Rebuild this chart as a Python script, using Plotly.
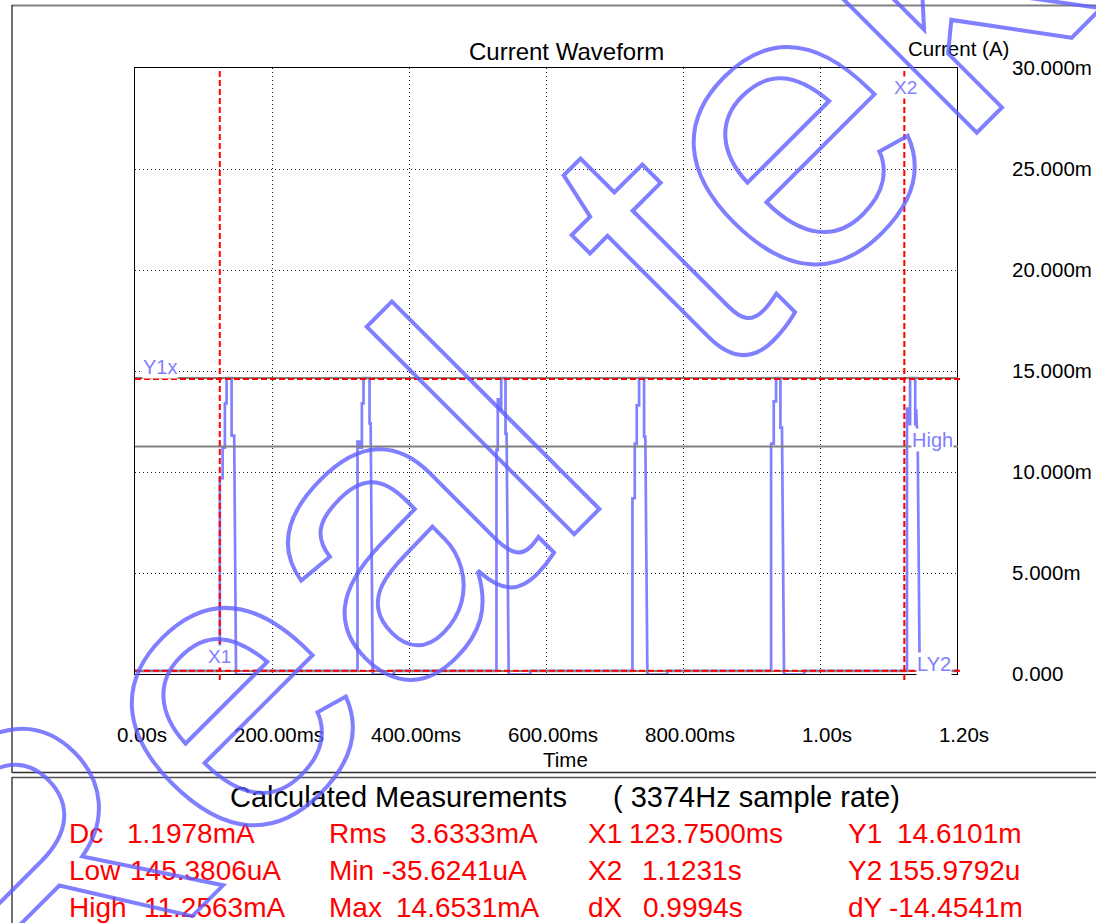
import plotly.graph_objects as go

# ---------------- data ----------------
time_s = [
    0.0000, 0.1239, 0.1239, 0.1279, 0.1279, 0.1312, 0.1312, 0.1337, 0.1337, 0.1410, 0.1410, 0.1448, 0.1475, 0.1750, 0.1750,
    0.3248, 0.3248, 0.3275, 0.3275, 0.3312, 0.3312, 0.3336, 0.3336, 0.3424, 0.3424, 0.3440, 0.3470, 0.3780, 0.3780,
    0.5277, 0.5277, 0.5296, 0.5296, 0.5320, 0.5320, 0.5346, 0.5346, 0.5409, 0.5409, 0.5425, 0.5455, 0.5770, 0.5770,
    0.7262, 0.7262, 0.7296, 0.7296, 0.7325, 0.7325, 0.7359, 0.7359, 0.7432, 0.7432, 0.7450, 0.7480, 0.7770, 0.7770,
    0.9286, 0.9286, 0.9325, 0.9325, 0.9359, 0.9359, 0.9422, 0.9422, 0.9445, 0.9475, 0.9770, 0.9770,
    1.1270, 1.1270, 1.1285, 1.1300, 1.1315, 1.1315, 1.1390, 1.1390, 1.1405, 1.1412, 1.1425, 1.1455, 1.1750, 1.1750, 1.2000,
]
current_mA = [
    0.15, 0.15, 9.7, 9.7, 11.2, 11.2, 13.4, 13.4, 14.65, 14.65, 11.8, 11.8, -0.03, -0.03, 0.15,
    0.15, 11.5, 11.5, 11.2, 11.2, 13.4, 13.4, 14.65, 14.65, 12.4, 12.4, -0.03, -0.03, 0.15,
    0.15, 11.1, 11.1, 13.6, 13.6, 13.1, 13.1, 14.65, 14.65, 11.9, 11.9, -0.03, -0.03, 0.15,
    0.15, 8.7, 8.7, 11.4, 11.4, 13.3, 13.3, 14.65, 14.65, 11.75, 11.75, -0.03, -0.03, 0.15,
    0.15, 11.4, 11.4, 13.5, 13.5, 14.65, 14.65, 12.2, 12.2, -0.03, -0.03, 0.15,
    0.15, 13.2, 12.3, 13.2, 12.3, 14.65, 14.65, 12.3, 13.1, 12.3, 12.0, -0.03, -0.03, 0.15, 0.15,
]

x_tick_vals = [0.0, 0.2, 0.4, 0.6, 0.8, 1.0, 1.2]
x_tick_text = ["0.00s", "200.00ms", "400.00ms", "600.00ms", "800.00ms", "1.00s", "1.20s"]
y_tick_vals_mA = [0, 5, 10, 15, 20, 25, 30]
y_tick_text = ["0.000", "5.000m", "10.000m", "15.000m", "20.000m", "25.000m", "30.000m"]

cursor_x1_s = 0.12375
cursor_x2_s = 1.1231
cursor_y1_A = 0.0146101
cursor_y2_A = 0.0001559792
level_high_A = 0.0112563
level_max_A = 0.0146531
level_low_A = 0.0001453806

meas_labels = [["Dc", "Low", "High"], ["Rms", "Min", "Max"],
               ["X1", "X2", "dX"], ["Y1", "Y2", "dY"]]
meas_values = [["1.1978mA", "145.3806uA", "11.2563mA"],
               ["3.6333mA", "-35.6241uA", "14.6531mA"],
               ["123.7500ms", "1.1231s", "0.9994s"],
               ["14.6101m", "155.9792u", "-14.4541m"]]

chart_title = "Current Waveform"
y_title = "Current (A)"
x_title = "Time"
meas_title = "Calculated Measurements"
meas_rate = "( 3374Hz sample rate)"
cursor_tags = ["Y1x", "High", "LY2", "X1", "X2"]
watermark_words = ["Real", "tek"]

# ---------------- layout helpers ----------------
W, H = 1096, 923
PL, PT, PW, PH = 135, 68, 822, 606
FONT = "Liberation Sans, Arial, sans-serif"


def px(x):
    return (x - PL) / PW


def py(y):
    return (PT + PH - y) / PH


current_A = [v / 1000.0 for v in current_mA]
y_tick_vals = [v / 1000.0 for v in y_tick_vals_mA]

fig = go.Figure()
fig.add_trace(go.Scatter(
    x=time_s, y=current_A, mode="lines",
    line=dict(color="rgba(112,112,255,0.88)", width=2.7),
    hoverinfo="skip", showlegend=False, cliponaxis=False,
))

shapes = []
# gray level lines
for lv in [level_high_A, level_max_A, level_low_A]:
    shapes.append(dict(type="line", xref="paper", yref="y", x0=0, x1=px(958),
                       y0=lv, y1=lv, line=dict(color="#808080", width=2)))
# red cursor lines
red = dict(color="#ff0000", width=2, dash="6px,3px")
for cx in [cursor_x1_s, cursor_x2_s]:
    shapes.append(dict(type="line", xref="x", yref="paper", x0=cx, x1=cx,
                       y0=py(680), y1=1, line=red))
for cy in [cursor_y1_A, cursor_y2_A]:
    shapes.append(dict(type="line", xref="paper", yref="y", x0=0, x1=px(960),
                       y0=cy, y1=cy, line=red))
# outer panel frames
shapes += [
    dict(type="line", xref="paper", yref="paper", x0=px(12), x1=px(1096), y0=py(5.5), y1=py(5.5),
         line=dict(color="#808080", width=2)),
    dict(type="line", xref="paper", yref="paper", x0=px(12), x1=px(12), y0=py(5), y1=py(773),
         line=dict(color="#404040", width=1.5)),
    dict(type="line", xref="paper", yref="paper", x0=px(12), x1=px(1096), y0=py(772.5), y1=py(772.5),
         line=dict(color="#303030", width=1.5)),
    dict(type="line", xref="paper", yref="paper", x0=px(12), x1=px(1096), y0=py(777.5), y1=py(777.5),
         line=dict(color="#505050", width=1.5)),
    dict(type="line", xref="paper", yref="paper", x0=px(12), x1=px(12), y0=py(777), y1=py(923),
         line=dict(color="#404040", width=1.5)),
]

ann = []


def text(x, y, s, size, color="black", xanchor="left", bg=None, **kw):
    d = dict(xref="paper", yref="paper", x=px(x), y=py(y), text=s, showarrow=False,
             xanchor=xanchor, yanchor="middle",
             font=dict(family=FONT, size=size, color=color), borderpad=0)
    if bg:
        d["bgcolor"] = bg
    d.update(kw)
    ann.append(d)


text(566.5, 51, chart_title, 24, xanchor="center")
text(958.5, 48, y_title, 20.5, xanchor="center")
text(565, 759, x_title, 20.5, xanchor="center")

# cursor / level labels
lab = "rgb(128,128,255)"
tag_pos = [(141.5, 366.5, "left", 20), (910.5, 440, "left", 20), (916, 664, "left", 20),
           (219.5, 656, "center", 19), (905.5, 87, "center", 19)]
for s, (tx, ty, anc, sz) in zip(cursor_tags, tag_pos):
    text(tx, ty, s, sz, lab, xanchor=anc, bg="white")

# measurements
text(229, 797, meas_title, 29)
text(612, 797, meas_rate, 29)
label_x = [68, 328, 587, 847]
value_x = [[126, 129, 143], [409, 381, 395], [628, 641, 642], [896, 887, 888]]
row_y = [833, 870, 907]
for c in range(4):
    for r in range(3):
        text(label_x[c], row_y[r], meas_labels[c][r], 28, "#ff0000")
        text(value_x[c][r], row_y[r], meas_values[c][r], 28, "#ff0000")

# watermark (outlined via post script)
wm_pos = [(224, 685), (812, 98)]
for word, (wx, wy) in zip(watermark_words, wm_pos):
    text(wx, wy, word, 405, "rgba(95,95,255,0.8)", xanchor="center", textangle=-45)

fig.update_layout(
    width=W, height=H, autosize=False,
    margin=dict(l=PL, r=W - PL - PW, t=PT, b=H - PT - PH, pad=0),
    paper_bgcolor="white", plot_bgcolor="white",
    font=dict(family=FONT, size=20, color="black"),
    showlegend=False,
    shapes=shapes, annotations=ann,
    xaxis=dict(range=[0, 1.2], tickvals=x_tick_vals, ticktext=x_tick_text, automargin=False,
               showgrid=True, gridcolor="#202020", griddash="1px,3px", gridwidth=1,
               zeroline=False, showline=True, mirror=True, linecolor="black", linewidth=1,
               ticks="", tickfont=dict(size=20.5, family=FONT), ticklabelstandoff=42,
               ticklabelshift=7),
    yaxis=dict(range=[0, 0.030], tickvals=y_tick_vals, ticktext=y_tick_text, side="right",
               automargin=False,
               showgrid=True, gridcolor="#202020", griddash="1px,3px", gridwidth=1,
               zeroline=False, showline=True, mirror=True, linecolor="black", linewidth=1,
               ticks="", tickfont=dict(size=20.5, family=FONT), ticklabelstandoff=50),
)

post = """
document.body.style.margin='0';
document.body.style.overflow='hidden';
document.querySelectorAll('.annotation-text').forEach(function(e){
  var t = e.textContent;
  if (t === 'Real' || t === 'tek') {
    e.style.fill = 'none';
    e.style.stroke = 'rgba(95,95,255,0.8)';
    e.style.strokeWidth = '4px';
  }
});
"""
fig.write_html("out.html", post_script=post,
               config={"responsive": False, "displayModeBar": False})
